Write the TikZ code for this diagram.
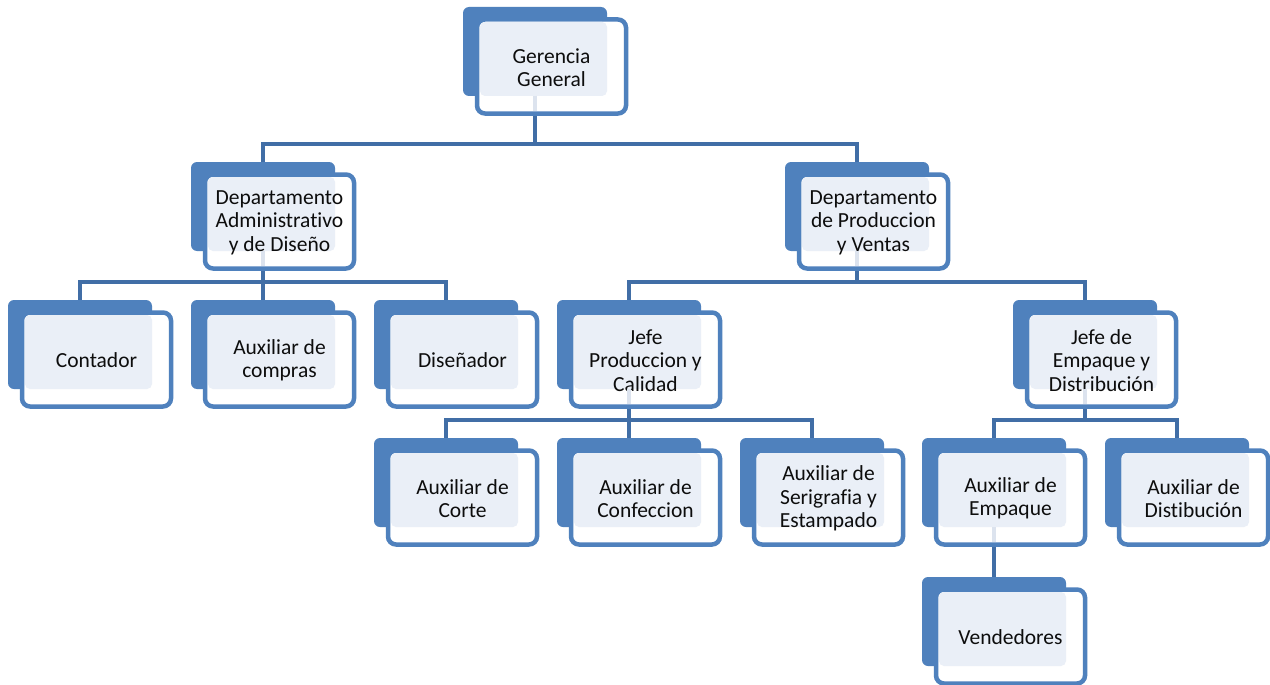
\documentclass[tikz,border=0pt]{standalone}
\usepackage{fontspec}
\setmainfont[Ligatures=NoCommon]{Carlito}
\usetikzlibrary{calc,backgrounds}
\definecolor{bkblue}{HTML}{4F81BD}
\definecolor{lineblue}{HTML}{416EA6}
\definecolor{tfill}{HTML}{EAEFF7}
\definecolor{faint}{HTML}{DCE3EE}
\definecolor{txt}{HTML}{0D0D0D}
\tikzset{
 bk/.style={fill=bkblue, draw=none, rounded corners=6pt, minimum width=144pt, minimum height=89pt, inner sep=0pt, outer sep=0pt, anchor=north west},
 ol/.style={fill=white, draw=bkblue, line width=4.5pt, rounded corners=8pt, minimum width=149pt, minimum height=94pt, inner sep=0pt, outer sep=0pt, anchor=north west},
 tf/.style={fill=tfill, draw=none, rounded corners=5pt, minimum width=127pt, minimum height=74pt, inner sep=0pt, outer sep=0pt, anchor=south east},
 lbl/.style={text=txt, align=center, font=\fontsize{21.5}{23.5}\selectfont, inner sep=0pt},
 conn/.style={draw=lineblue, line width=4.5pt},
 fnt/.style={draw=faint, line width=4.5pt},
}
\newcommand\orgbox[4]{%
 \node[bk] (#1B) at (#2,#3) {};
 \node[ol] (#1) at ($(#1B.north west)+(14,12.5)$) {};
 \node[tf] (#1T) at (#1B.south east) {};
 \node[lbl] (#1L) at ($(#1.center)+(0,1)$) {#4};
}
\newcommand\faintseg[1]{%
 \draw[fnt] (#1B.south) -- ($(#1B.south |- #1.south)+(0,-2.5)$);
}
\begin{document}
\begin{tikzpicture}[x=1pt,y=-1pt]
\useasboundingbox (0,0) rectangle (1270,685);
\orgbox{ger}{463}{7}{Gerencia\\General}
\orgbox{adm}{191}{162}{Departamento\\Administrativo\\y de Diseño}
\orgbox{prod}{785}{162}{Departamento\\de Produccion\\y Ventas}
\orgbox{cont}{8}{300}{Contador}
\orgbox{comp}{191}{300}{Auxiliar de\\compras}
\orgbox{dis}{374}{300}{Diseñador}
\orgbox{jp}{557}{300}{Jefe\\Produccion y\\Calidad}
\orgbox{je}{1013}{300}{Jefe de\\Empaque y\\Distribución}
\orgbox{corte}{374}{438}{Auxiliar de\\Corte}
\orgbox{conf}{557}{438}{Auxiliar de\\Confeccion}
\orgbox{ser}{740}{438}{Auxiliar de\\Serigrafia y\\Estampado}
\orgbox{emp}{922}{438}{Auxiliar de\\Empaque}
\orgbox{dist}{1105}{438}{Auxiliar de\\Distibución}
\orgbox{vend}{922}{577}{Vendedores}
\faintseg{ger}
\faintseg{adm}
\faintseg{prod}
\faintseg{jp}
\faintseg{je}
\faintseg{emp}
\coordinate (bar1) at (0,144);
\coordinate (bar2) at (0,282);
\coordinate (bar3) at (0,420);
\begin{scope}[on background layer]
\fill[white] (0,0) rectangle (1270,685);
\draw[conn] (gerB.south) -- (gerB.south |- bar1);
\draw[conn] (admB.north) -- (admB.north |- bar1) -- (prodB.north |- bar1) -- (prodB.north);
\draw[conn] (admB.south) -- (admB.south |- bar2);
\draw[conn] (contB.north) -- (contB.north |- bar2) -- (disB.north |- bar2) -- (disB.north);
\draw[conn] (compB.north) -- (compB.north |- bar2);
\draw[conn] (prodB.south) -- (prodB.south |- bar2);
\draw[conn] (jpB.north) -- (jpB.north |- bar2) -- (jeB.north |- bar2) -- (jeB.north);
\draw[conn] (jpB.south) -- (jpB.south |- bar3);
\draw[conn] (corteB.north) -- (corteB.north |- bar3) -- (serB.north |- bar3) -- (serB.north);
\draw[conn] (confB.north) -- (confB.north |- bar3);
\draw[conn] (jeB.south) -- (jeB.south |- bar3);
\draw[conn] (empB.north) -- (empB.north |- bar3) -- (distB.north |- bar3) -- (distB.north);
\draw[conn] (empB.south) -- (vendB.north);
\end{scope}
\end{tikzpicture}
\end{document}
